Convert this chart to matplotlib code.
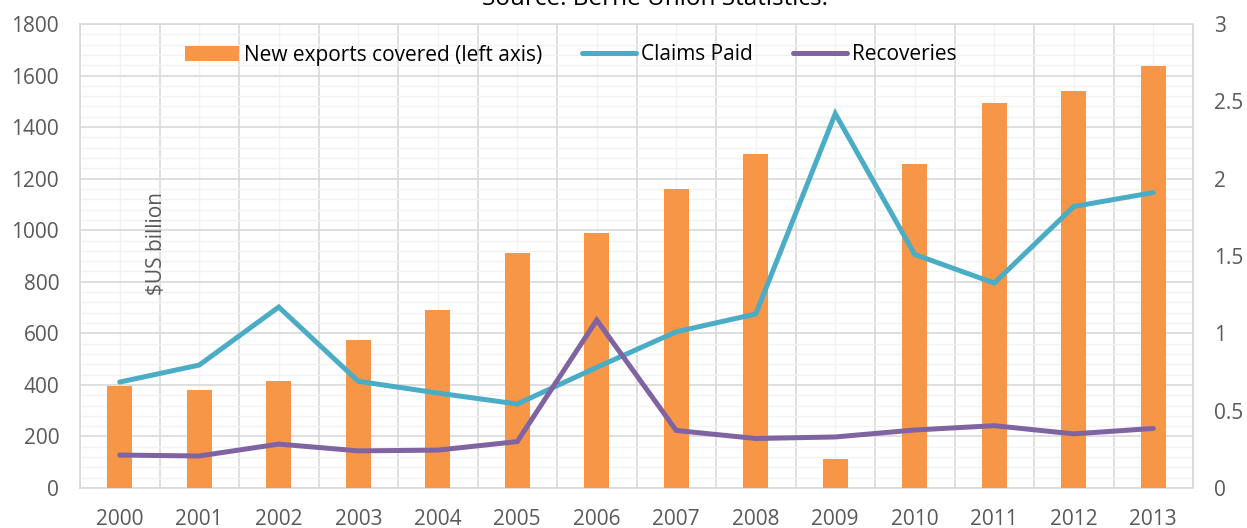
import numpy as np
import matplotlib.pyplot as plt
from matplotlib.ticker import MultipleLocator

## the data
years = ['2000', '2001', '2002', '2003', '2004', '2005', '2006',
         '2007', '2008', '2009', '2010', '2011', '2012', '2013']
new_exports = [397, 382, 415, 574, 690, 912, 989, 1160, 1296, 112, 1257, 1495, 1539, 1638]
claims_paid = [0.685, 0.795, 1.17, 0.69, 0.614, 0.543, 0.78, 1.01, 1.125, 2.42, 1.51, 1.325, 1.82, 1.91]
recoveries = [0.213, 0.207, 0.284, 0.24, 0.245, 0.30, 1.086, 0.372, 0.32, 0.33, 0.375, 0.403, 0.35, 0.385]

plt.rcParams['font.family'] = ['Open Sans', 'DejaVu Sans']
fs = 15

fig = plt.figure(figsize=(12.47, 5.28), dpi=100)
ax = fig.add_axes([80/1247, 1-488/528, (1193-80)/1247, (488-24)/528])

x = np.arange(len(years))
ax.bar(x, new_exports, width=0.31, color='#F79646', zorder=3,
       label='New exports covered (left axis)')

ax.set_xlim(-0.5, len(years)-0.5)
ax.set_ylim(0, 1800)
ax.yaxis.set_major_locator(MultipleLocator(200))
ax.yaxis.set_minor_locator(MultipleLocator(40))
ax.set_xticks(x, labels=years)
ax.set_xticks(np.arange(-0.5, len(years), 1), minor=True)

## excel style grid: darker majors, pale minors
ax.grid(which='major', axis='y', color='#D9D9D9', lw=1.2, zorder=0)
ax.grid(which='minor', axis='y', color='#F2F2F2', lw=1.0, zorder=0)
ax.grid(which='minor', axis='x', color='#D9D9D9', lw=1.2, zorder=0)
ax.grid(which='major', axis='x', color='#F2F2F2', lw=1.0, zorder=0)
ax.set_axisbelow(True)
ax.tick_params(which='both', length=0)
ax.tick_params(axis='y', labelsize=fs, labelcolor='#595959', pad=15)
ax.tick_params(axis='x', labelsize=fs, labelcolor='#595959', pad=15)
for s in ax.spines.values():
    s.set_color('#D9D9D9')
    s.set_linewidth(1.2)

ax2 = ax.twinx()
ax2.plot(x, claims_paid, color='#4BACC6', lw=3.6, solid_capstyle='round',
         solid_joinstyle='miter', label='Claims Paid')
ax2.plot(x, recoveries, color='#8064A2', lw=3.6, solid_capstyle='round',
         solid_joinstyle='miter', label='Recoveries')
ax2.set_ylim(0, 3)
ax2.yaxis.set_major_locator(MultipleLocator(0.5))
ax2.yaxis.set_major_formatter(lambda v, p: f'{v:g}')
ax2.tick_params(length=0, labelsize=fs, labelcolor='#595959', pad=15)
for s in ax2.spines.values():
    s.set_visible(False)

ax.text(0.46, 950, '$US billion', rotation=90, fontsize=fs, color='#595959',
        ha='center', va='center', zorder=5)

h1, l1 = ax.get_legend_handles_labels()
h2, l2 = ax2.get_legend_handles_labels()
ax2.legend(h1 + h2, l1 + l2, ncol=3, loc='center',
           bbox_to_anchor=(0.441, 1 - 31/464), frameon=False, fontsize=fs,
           handlelength=2.6, handletextpad=0.25, columnspacing=1.9,
           borderpad=0, borderaxespad=0)

## the source line sits half off the top edge, as in the original
fig.text(0.525, 1 - 5/528, 'Source: Berne Union Statistics.', fontsize=17.5,
         ha='center', va='baseline')

fig.savefig('out.png', dpi=100)
